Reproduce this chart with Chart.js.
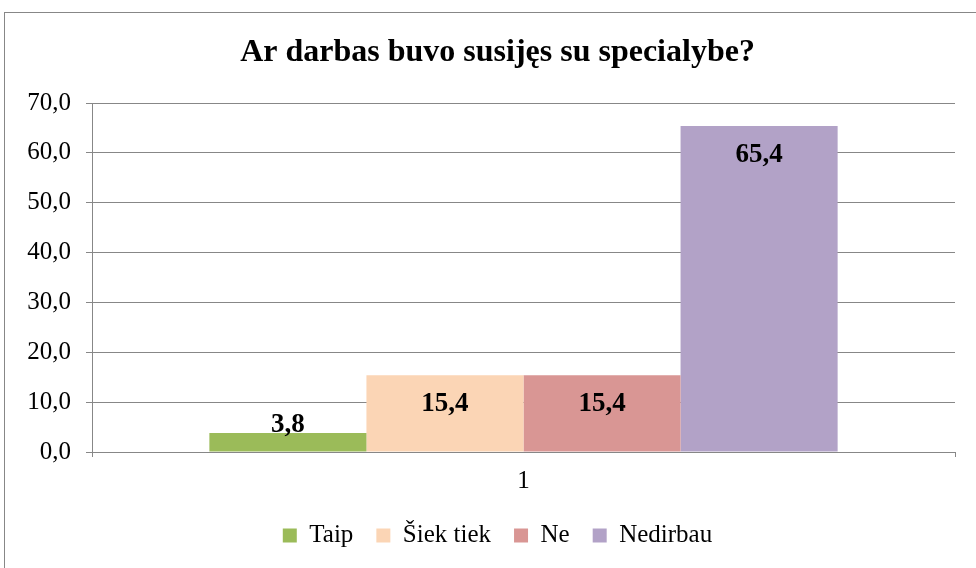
<!DOCTYPE html>
<html>
<head>
<meta charset="utf-8">
<script src="https://cdn.jsdelivr.net/npm/chart.js@4.4.0/dist/chart.umd.min.js"></script>
<style>
  body { margin: 0; background: #fff; }
  #wrap { width: 976px; height: 568px; }
</style>
</head>
<body>
<div id="wrap"><canvas id="myChart" width="976" height="568"></canvas></div>
<script>
var categories = ["1"];
var seriesNames = ["Taip", "Šiek tiek", "Ne", "Nedirbau"];
var seriesValues = [[3.8], [15.4], [15.4], [65.4]];
var seriesColors = ["#9bbb59", "#fbd5b5", "#d99694", "#b2a2c7"];
var yTicks = [0, 10, 20, 30, 40, 50, 60, 70];

var serif = "'Liberation Serif', 'Times New Roman', serif";

function fmt(v) {
  return Number(v).toFixed(1).replace(".", ",");
}

// white background and the outer frame
var frame = {
  id: "frame",
  beforeDraw: function (chart) {
    var c = chart.ctx;
    c.save();
    c.fillStyle = "#fff";
    c.fillRect(0, 0, chart.width, chart.height);
    c.strokeStyle = "#878787";
    c.lineWidth = 1;
    c.strokeRect(4.5, 12.5, 1000, 600);
    c.restore();
  }
};

// title and legend are centred a bit right of the canvas middle
var shiftBoxes = {
  id: "shiftBoxes",
  afterLayout: function (chart) {
    [chart.titleBlock, chart.legend].forEach(function (b) {
      if (!b) return;
      b.left += 20;
      b.right += 20;
    });
  }
};

// value labels near the top of each bar
var valueLabels = {
  id: "valueLabels",
  afterDatasetsDraw: function (chart) {
    var c = chart.ctx;
    c.save();
    c.font = "bold 27px " + serif;
    c.fillStyle = "#000";
    c.textAlign = "center";
    c.textBaseline = "middle";
    chart.data.datasets.forEach(function (ds, i) {
      var meta = chart.getDatasetMeta(i);
      meta.data.forEach(function (bar, j) {
        var y = Math.min(bar.y + 29, bar.base - 26);
        c.fillText(fmt(ds.data[j]), bar.x, y);
      });
    });
    c.restore();
  }
};

var datasets = [];
for (let i = 0; i < seriesNames.length; i++) {
  datasets.push({
    label: seriesNames[i],
    data: seriesValues[i],
    backgroundColor: seriesColors[i],
    borderWidth: 0
  });
}

var ctx = document.getElementById("myChart").getContext("2d");
var chart = new Chart(ctx, {
  type: "bar",
  data: {
    labels: categories,
    datasets: datasets
  },
  plugins: [frame, shiftBoxes, valueLabels],
  options: {
    responsive: false,
    animation: false,
    layout: { padding: { left: 0, right: 21, top: 0, bottom: 10 } },
    datasets: {
      bar: { barPercentage: 1, categoryPercentage: 0.728 }
    },
    plugins: {
      title: {
        display: true,
        text: "Ar darbas buvo susijęs su specialybe?",
        color: "#000",
        font: { family: serif, size: 32, weight: "bold" },
        padding: { top: 34, bottom: 30.6 }
      },
      legend: {
        position: "bottom",
        labels: {
          color: "#000",
          font: { family: serif, size: 25 },
          boxWidth: 14,
          boxHeight: 14,
          padding: 23
        }
      },
      tooltip: { enabled: false }
    },
    scales: {
      x: {
        grid: {
          offset: true,
          drawOnChartArea: false,
          tickLength: 5,
          color: "#878787"
        },
        border: { color: "#878787" },
        ticks: {
          color: "#000",
          padding: 9,
          font: { family: serif, size: 25 }
        },
        afterFit: function (scale) { scale.height = 48; }
      },
      y: {
        min: 0,
        max: 70,
        afterBuildTicks: function (scale) {
          scale.ticks = yTicks.map(function (v) { return { value: v }; });
        },
        grid: { color: "#878787", tickLength: 6 },
        border: { color: "#878787" },
        ticks: {
          color: "#000",
          padding: 15,
          font: { family: serif, size: 25 },
          callback: function (v) { return fmt(v); }
        },
        afterFit: function (scale) { scale.width = 92; }
      }
    }
  }
});
</script>
</body>
</html>
